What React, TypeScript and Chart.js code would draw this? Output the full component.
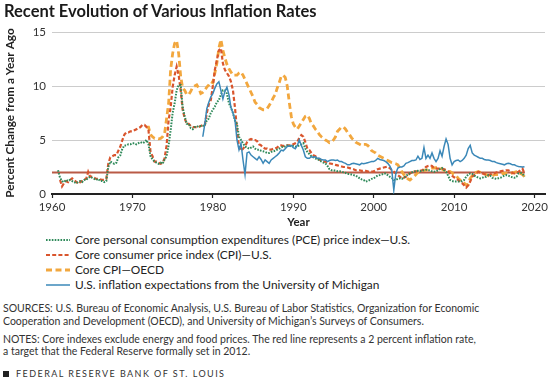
import React, { useEffect, useRef } from "react";
import { Chart, registerables } from "chart.js";

Chart.register(...registerables);

// ---------- DATA (quarterly readings, year-over-year % change) ----------
const STEP = 0.25;

const pceStart = 1960.75;
const pceValues = [
  2.2,
  1.5, 1.2, 1.1, 1.3,
  1.2, 1.3, 1.2, 1.1,
  1.0, 1.1, 1.2, 1.1,
  1.3, 1.3, 1.5, 1.6,
  1.5, 1.4, 1.3, 1.4,
  1.2, 1.2, 1.1, 1.2,
  2.5, 3.0, 2.9, 2.8,
  2.9, 3.4, 3.6, 4.2,
  4.5, 4.5, 4.6, 4.6,
  4.7, 4.7, 4.6, 4.7,
  4.8, 4.7, 4.8, 5.0,
  4.6, 3.5, 3.2, 3.0,
  2.9, 2.8, 2.9, 2.8,
  3.2, 3.5, 4.5, 5.9,
  7.5, 8.4, 9.6, 10.1,
  10.1, 8.0, 7.2, 6.5,
  6.5, 6.1, 6.0, 6.2,
  6.2, 6.3, 6.3, 6.3,
  6.4, 6.8, 7.0, 7.5,
  7.8, 8.1, 8.5, 8.7,
  9.2, 9.6, 9.6, 9.3,
  8.4, 8.0, 7.5, 6.8,
  6.5, 5.3, 5.0, 4.7,
  4.4, 4.3, 4.2, 4.3,
  4.4, 4.2, 4.1, 4.1,
  4.0, 3.95, 3.9, 3.8,
  3.8, 3.9, 3.95, 4.0,
  4.1, 4.2, 4.3, 4.4,
  4.4, 4.5, 4.5, 4.4,
  4.45, 4.4, 4.4, 4.5,
  4.6, 4.7, 4.2, 3.9,
  3.7, 3.5, 3.4, 3.3,
  3.2, 3.15, 3.0, 2.9,
  2.85, 2.6, 2.3, 2.2,
  2.2, 2.15, 2.1, 2.1,
  2.07, 2.0, 1.95, 1.85,
  1.85, 1.8, 1.75, 1.7,
  1.6, 1.45, 1.35, 1.3,
  1.15, 1.2, 1.3, 1.4,
  1.45, 1.6, 1.7, 1.75,
  1.8, 1.9, 1.9, 1.75,
  1.6, 1.5, 1.3, 1.3,
  1.4, 1.45, 1.4, 1.5,
  1.65, 1.8, 1.9, 2.0,
  2.07, 2.1, 2.15, 2.1,
  2.15, 2.2, 2.25, 2.2,
  2.2, 2.1, 2.07, 2.1,
  2.2, 2.3, 2.4, 2.2,
  2.07, 1.7, 1.3, 1.2,
  1.15, 1.15, 1.15, 1.15,
  1.2, 1.3, 1.6, 1.8,
  1.9, 1.85, 1.7, 1.6,
  1.5, 1.45, 1.5, 1.6,
  1.6, 1.75, 1.7, 1.5,
  1.45, 1.4, 1.45, 1.5,
  1.6, 1.7, 1.75, 1.7,
  1.6, 1.55, 1.5, 1.6,
  1.9, 1.95, 1.9, 1.6,
];

const cpiStart = 1961.0;
const cpiValues = [
  1.3, 0.7, 1.0, 1.2,
  1.1, 1.3, 1.45, 1.3,
  1.14, 0.95, 1.1, 1.2,
  1.36, 1.4, 2.05, 1.6,
  1.6, 1.5, 1.4, 1.4,
  1.36, 1.3, 1.3, 1.4,
  2.8, 3.4, 3.5, 3.6,
  3.6, 4.0, 4.4, 5.0,
  5.5, 5.7, 5.7, 5.8,
  5.8, 5.9, 6.0, 6.1,
  6.2, 6.4, 6.4, 6.2,
  5.9, 3.9, 3.5, 3.0,
  3.0, 2.9, 2.8, 2.9,
  3.3, 4.5, 6.85, 8.0,
  9.9, 11.0, 11.8, 11.0,
  9.6, 7.8, 7.0, 6.5,
  6.5, 6.3, 6.2, 6.2,
  6.2, 6.2, 6.3, 6.4,
  6.4, 7.5, 8.3, 8.7,
  10.0, 11.5, 12.4, 13.3,
  13.5, 12.1, 11.5, 11.2,
  10.9, 10.4, 9.6, 8.0,
  6.0, 4.4, 4.0, 4.2,
  4.4, 4.8, 5.0, 5.1,
  5.0, 5.0, 4.9, 4.6,
  4.5, 4.3, 4.2, 4.2,
  4.1, 4.1, 4.2, 4.2,
  4.3, 4.5, 4.5, 4.45,
  4.45, 4.5, 4.5, 4.5,
  4.6, 4.7, 4.8, 5.2,
  5.45, 5.3, 4.8, 4.2,
  4.07, 3.8, 3.6, 3.5,
  3.3, 3.2, 3.1, 3.0,
  3.0, 2.9, 2.84, 2.8,
  2.75, 2.7, 2.65, 2.6,
  2.55, 2.5, 2.5, 2.45,
  2.4, 2.35, 2.3, 2.2,
  2.2, 2.2, 2.15, 2.15,
  2.15, 2.1, 2.07, 2.07,
  2.1, 2.2, 2.3, 2.35,
  2.4, 2.45, 2.5, 2.53,
  2.4, 2.2, 2.07, 1.9,
  1.75, 1.6, 1.45, 1.5,
  1.6, 1.75, 1.9, 2.0,
  2.07, 2.1, 2.1, 2.15,
  2.2, 2.3, 2.5, 2.6,
  2.65, 2.6, 2.4, 2.35,
  2.35, 2.35, 2.35, 2.3,
  2.2, 2.1, 1.9, 1.7,
  1.55, 1.45, 1.3, 1.1,
  1.0, 0.8, 0.6, 0.8,
  1.15, 1.6, 1.75, 1.9,
  2.07, 2.0, 1.9, 1.85,
  1.8, 1.75, 1.8, 1.9,
  1.9, 2.0, 2.07, 2.1,
  2.15, 2.15, 2.2, 2.2,
  2.1, 1.95, 1.9, 1.95,
  2.07, 2.2, 2.35, 1.9,
];

const oecdStart = 1971.75;
const oecdValues = [
  6.2,
  6.2, 5.5, 5.3, 5.15,
  5.15, 5.1, 5.15, 5.3,
  5.6, 7.0, 8.4, 11.5,
  13.0, 13.95, 14.2, 13.0,
  10.9, 9.8, 9.6, 9.2,
  9.2, 9.5, 9.9, 10.0,
  10.1, 9.8, 9.3, 9.4,
  9.6, 9.9, 10.1, 10.4,
  10.3, 11.2, 12.1, 13.5,
  14.3, 13.3, 12.6, 12.0,
  11.6, 11.3, 11.0, 11.0,
  11.0, 11.2, 11.3, 11.0,
  10.6, 10.2, 9.8, 9.4,
  9.0, 8.5, 8.3, 8.0,
  7.9, 7.8, 7.8, 7.9,
  8.2, 8.5, 8.9, 9.2,
  9.8, 10.3, 10.9, 11.0,
  10.8, 10.0, 8.5, 7.2,
  6.5, 6.2, 6.0, 6.3,
  6.6, 6.9, 7.2, 7.3,
  7.0, 6.5, 6.3, 6.0,
  5.8, 5.5, 5.3, 5.15,
  5.0, 4.9, 4.75, 4.8,
  5.0, 5.3, 5.8, 6.0,
  6.2, 6.2, 6.0, 5.7,
  5.5, 5.2, 5.0, 4.8,
  4.7, 4.6, 4.5, 4.6,
  4.6, 4.5, 4.3, 4.0,
  3.9, 3.8, 3.6, 3.5,
  3.4, 3.3, 3.2, 3.1,
  3.0, 2.9, 2.85, 2.8,
  2.7, 2.4, 2.07, 1.8,
  1.6, 1.4, 1.3, 1.45,
  1.6, 1.8, 2.0, 2.1,
  2.15, 2.2, 2.2, 2.3,
  2.35, 2.4, 2.4, 2.45,
  2.5, 2.45, 2.3, 2.2,
  2.2, 2.1, 2.07, 1.95,
  1.8, 1.7, 1.45, 1.3,
  1.1, 1.0, 0.85, 0.9,
  1.45, 1.7, 1.9, 2.0,
  2.07, 2.0, 1.9, 1.85,
  1.8, 1.7, 1.6, 1.65,
  1.8, 1.8, 1.8, 1.85,
  1.9, 1.9, 1.95, 1.9,
  1.9, 1.95, 2.0, 2.07,
  2.0, 1.9, 1.8, 1.6,
];

const michStart = 1978.75;
const michValues = [
  5.3,
  6.5, 7.9, 8.5, 9.0,
  9.3, 9.8, 10.2, 10.4,
  9.6, 8.8, 9.5, 9.9,
  9.2, 8.0, 7.5, 6.85,
  5.0, 4.1, 4.7, 3.15,
  1.8, 3.8, 3.9, 3.6,
  3.45, 3.3, 3.15, 3.45,
  3.2, 2.84, 3.15, 3.0,
  2.84, 3.15, 3.3, 3.45,
  3.6, 3.8, 4.07, 4.0,
  4.2, 4.4, 4.45, 4.5,
  4.3, 4.2, 4.5, 5.0,
  4.5, 4.07, 3.45, 3.3,
  3.3, 3.45, 3.4, 3.45,
  3.3, 3.3, 3.2, 3.15,
  3.15, 3.0, 3.1, 3.15,
  3.15, 3.1, 3.15, 3.0,
  3.0, 2.9, 2.84, 2.7,
  2.7, 2.8, 2.84, 2.8,
  2.75, 2.7, 2.84, 2.8,
  2.84, 2.9, 2.95, 3.0,
  3.0, 3.1, 3.3, 3.2,
  3.15, 3.1, 3.0, 2.84,
  2.6, 2.2, 0.37, 1.9,
  2.4, 2.5, 2.5, 2.6,
  2.84, 2.9, 3.0, 3.1,
  3.1, 3.15, 3.5, 3.2,
  3.3, 4.3, 3.3, 3.6,
  3.3, 3.8, 3.3, 3.0,
  3.3, 4.0, 3.5, 4.4,
  5.1, 4.6, 3.3, 2.7,
  3.0, 3.1, 3.15, 3.0,
  3.1, 3.3, 3.6, 4.2,
  4.5, 3.8, 3.6, 3.5,
  3.4, 3.3, 3.3, 3.2,
  3.15, 3.15, 3.1, 3.0,
  3.0, 2.9, 2.84, 2.8,
  2.75, 2.7, 2.8, 2.84,
  2.8, 2.7, 2.7, 2.6,
  2.55, 2.53, 2.5, 2.53,
];

const targetYears = [1960, 2018.8];
const targetValues = [2, 2];

const xTickYears = [1960, 1970, 1980, 1990, 2000, 2010, 2020];
const yTickValues = [0, 5, 10, 15];

const seriesLabels = [
  "Core personal consumption expenditures (PCE) price index\u2014U.S.",
  "Core consumer price index (CPI)\u2014U.S.",
  "Core CPI\u2014OECD",
  "U.S. inflation expectations from the University of Michigan",
];

// ---------- STYLE ----------
const FONT = "Lato, 'Open Sans', sans-serif";
const C_PCE = "#2f8a5a";
const C_CPI = "#d9552d";
const C_OECD = "#f2a73e";
const C_MICH = "#3b88b8";
const C_TARGET = "#b95a46";

const toPoints = (start: number, values: number[]) =>
  values.map((v, i) => ({ x: start + i * STEP, y: v }));

export default function App() {
  const ref = useRef<HTMLCanvasElement | null>(null);

  useEffect(() => {
    if (!ref.current) return;
    const chart = new Chart(ref.current, {
      type: "line",
      data: {
        datasets: [
          {
            label: seriesLabels[0],
            data: toPoints(pceStart, pceValues),
            borderColor: C_PCE,
            borderWidth: 2,
            borderDash: [1.6, 1.3],
            pointRadius: 0,
            order: 2,
          },
          {
            label: seriesLabels[1],
            data: toPoints(cpiStart, cpiValues),
            borderColor: C_CPI,
            borderWidth: 2.2,
            borderDash: [4, 2.2],
            pointRadius: 0,
            order: 3,
          },
          {
            label: seriesLabels[2],
            data: toPoints(oecdStart, oecdValues),
            borderColor: C_OECD,
            borderWidth: 2.8,
            borderDash: [6, 3.5],
            pointRadius: 0,
            order: 4,
          },
          {
            label: seriesLabels[3],
            data: toPoints(michStart, michValues),
            borderColor: C_MICH,
            borderWidth: 1.5,
            pointRadius: 0,
            order: 1,
          },
          {
            label: "2 percent target",
            data: targetYears.map((y, i) => ({ x: y, y: targetValues[i] })),
            borderColor: C_TARGET,
            borderWidth: 2,
            pointRadius: 0,
            order: 10,
          },
        ],
      },
      options: {
        responsive: false,
        animation: false,
        events: [],
        layout: { padding: { top: 32, right: 5, left: 0, bottom: 0 } },
        plugins: { legend: { display: false }, tooltip: { enabled: false } },
        scales: {
          x: {
            type: "linear",
            min: 1960,
            max: 2021.3,
            afterBuildTicks: (s: any) => {
              s.ticks = xTickYears.map((v) => ({ value: v }));
            },
            afterFit: (s: any) => {
              s.height = 38;
            },
            ticks: {
              autoSkip: false,
              maxRotation: 0,
              padding: 2,
              color: "#333",
              font: { family: FONT, size: 11.5 },
              callback: (v: any) => String(v),
            },
            grid: {
              drawOnChartArea: false,
              drawTicks: true,
              tickLength: 4,
              tickColor: "#222",
              tickWidth: 1.2,
            },
            border: { display: true, color: "#222", width: 2 },
            title: {
              display: true,
              text: "Year",
              color: "#222",
              font: { family: FONT, size: 11.5, weight: "bold" },
              padding: { top: 0, bottom: 3 },
            },
          },
          y: {
            min: 0,
            max: 15,
            afterBuildTicks: (s: any) => {
              s.ticks = yTickValues.map((v) => ({ value: v }));
            },
            afterFit: (s: any) => {
              s.width = 52;
            },
            ticks: {
              padding: 6,
              color: "#333",
              font: { family: FONT, size: 11.5 },
              callback: (v: any) => String(v),
            },
            grid: { color: "#cccccc", lineWidth: 1, drawTicks: false },
            border: { display: false },
            title: {
              display: true,
              text: "Percent Change from a Year Ago",
              color: "#222",
              font: { family: FONT, size: 11.8, weight: "bold" },
              padding: { top: 3, bottom: 0 },
            },
          },
        },
      },
    } as any);
    return () => chart.destroy();
  }, []);

  const legendRows = [
    { color: C_PCE, width: 2, dash: "1.6 1.3" },
    { color: C_CPI, width: 2.2, dash: "4 2.2" },
    { color: C_OECD, width: 2.8, dash: "6 3.5" },
    { color: C_MICH, width: 1.5, dash: "" },
  ];
  const rowCenters = [240, 255, 270, 285];

  const text: React.CSSProperties = {
    position: "absolute",
    fontFamily: FONT,
    whiteSpace: "nowrap",
    margin: 0,
  };

  return (
    <div
      style={{
        position: "absolute",
        left: 0,
        top: 0,
        width: 550,
        height: 384,
        overflow: "hidden",
        background: "#fff",
      }}
    >
      <canvas
        ref={ref}
        width={550}
        height={232}
        style={{ position: "absolute", left: 0, top: 0, width: 550, height: 232 }}
      />
      <div
        style={{
          ...text,
          left: 4,
          top: 2,
          fontSize: 16.5,
          fontWeight: 700,
          lineHeight: "18px",
          color: "#1a1a1a",
        }}
      >
        Recent Evolution of Various Inflation Rates
      </div>
      {legendRows.map((r, i) => (
        <React.Fragment key={i}>
          <svg
            width={24}
            height={6}
            style={{ position: "absolute", left: 46, top: rowCenters[i] - 3 }}
          >
            <line
              x1={0}
              y1={3}
              x2={24}
              y2={3}
              stroke={r.color}
              strokeWidth={r.width}
              strokeDasharray={r.dash || undefined}
            />
          </svg>
          <div
            style={{
              ...text,
              left: 75,
              top: rowCenters[i] - 7,
              fontSize: 11.9,
              lineHeight: "14px",
              color: "#222",
            }}
          >
            {seriesLabels[i]}
          </div>
        </React.Fragment>
      ))}
      <div
        style={{
          ...text,
          left: 3,
          top: 302,
          fontSize: 10.5,
          lineHeight: "12.6px",
          color: "#333",
        }}
      >
        SOURCES: U.S. Bureau of Economic Analysis, U.S. Bureau of Labor Statistics, Organization for Economic
        <br />
        Cooperation and Development (OECD), and University of Michigan’s Surveys of Consumers.
      </div>
      <div
        style={{
          ...text,
          left: 3,
          top: 333,
          fontSize: 10.5,
          lineHeight: "12.2px",
          color: "#333",
        }}
      >
        NOTES: Core indexes exclude energy and food prices. The red line represents a 2 percent inflation rate,
        <br />
        a target that the Federal Reserve formally set in 2012.
      </div>
      <div
        style={{
          position: "absolute",
          left: 3,
          top: 371,
          width: 6,
          height: 6,
          background: "#222",
        }}
      />
      <div
        style={{
          ...text,
          left: 16,
          top: 368,
          fontSize: 9,
          lineHeight: "11px",
          letterSpacing: "1.45px",
          color: "#333",
        }}
      >
        FEDERAL RESERVE BANK OF ST. LOUIS
      </div>
    </div>
  );
}
